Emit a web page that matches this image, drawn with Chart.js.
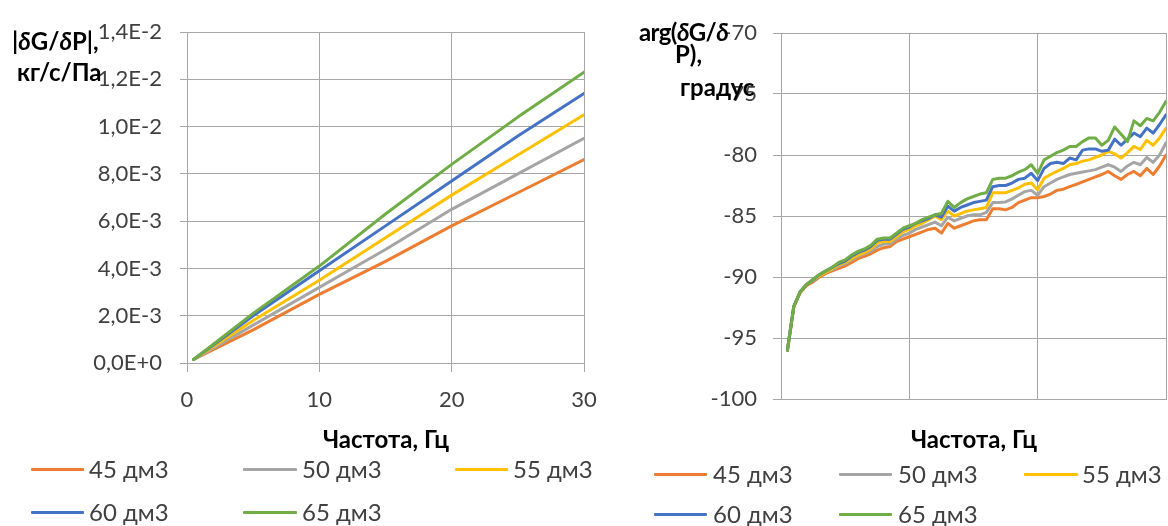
<!DOCTYPE html>
<html>
<head>
<meta charset="utf-8">
<script src="https://cdn.jsdelivr.net/npm/chart.js@4/dist/chart.umd.min.js"></script>
<style>
  html, body { margin: 0; padding: 0; background: #fff; }
  body { width: 1168px; height: 526px; position: relative; overflow: hidden; font-family: Lato, 'Open Sans', sans-serif; }
  .box { position: absolute; top: 0; }
  .txt { position: absolute; white-space: nowrap; line-height: 28px; height: 28px; color: #404040; font-size: 24px; }
  .bold { font-weight: bold; color: #000; }
  .leg-line { position: absolute; height: 3px; border-radius: 1px; }
</style>
</head>
<body>
<div class="box" style="left:0;width:600px;height:526px"><canvas id="chartMag" width="600" height="526"></canvas></div>
<div class="box" style="left:600px;width:568px;height:526px"><canvas id="chartArg" width="568" height="526"></canvas></div>

<!-- axis titles -->
<div class="txt bold" style="left:12px;top:27px">|<i>δ</i>G/<i>δ</i>P|,</div>
<div class="txt bold" style="left:17px;top:58px">кг/с/Па</div>
<div class="txt bold" style="left:639px;top:18px;letter-spacing:-0.6px">arg(<i>δ</i>G/<i>δ</i></div>
<div class="txt bold" style="left:675px;top:40px">P),</div>
<div class="txt bold" style="left:680px;top:73px">градус</div>
<div class="txt bold" style="left:386px;top:425px;transform:translateX(-50%)">Частота, Гц</div>
<div class="txt bold" style="left:974px;top:425px;transform:translateX(-50%)">Частота, Гц</div>

<div id="legends"></div>

<script>
// series names and colours
const seriesLabels = ['45 дм3', '50 дм3', '55 дм3', '60 дм3', '65 дм3'];
const seriesColors = ['#ED7D31', '#A5A5A5', '#FFC000', '#4472C4', '#70AD47'];

// left chart: |dG/dP|, kg/s/Pa
const freqL = [0.5, 5, 10, 15, 20, 25, 30];
const mag45 = [0.00015, 0.0014, 0.0029, 0.0043, 0.0058, 0.0072, 0.0086];
const mag50 = [0.00015, 0.0016, 0.0032, 0.0048, 0.0065, 0.0080, 0.0095];
const mag55 = [0.00015, 0.0018, 0.0035, 0.0053, 0.0071, 0.0088, 0.0105];
const mag60 = [0.00015, 0.0020, 0.0039, 0.0058, 0.0077, 0.0096, 0.0114];
const mag65 = [0.00015, 0.0021, 0.0041, 0.0063, 0.0084, 0.0104, 0.0123];
const xTickLabelsL = ['0', '10', '20', '30'];
const yTickLabelsL = ['0,0E+0', '2,0E-3', '4,0E-3', '6,0E-3', '8,0E-3', '1,0E-2', '1,2E-2', '1,4E-2'];

// right chart: arg(dG/dP), degrees
const freqR = [0.5, 1, 1.5, 2, 2.5, 3, 3.5, 4, 4.5, 5, 5.5, 6, 6.5, 7, 7.5, 8, 8.5, 9, 9.5, 10,
  10.5, 11, 11.5, 12, 12.5, 13, 13.5, 14, 14.5, 15, 15.5, 16, 16.5, 17, 17.5, 18, 18.5, 19, 19.5, 20,
  20.5, 21, 21.5, 22, 22.5, 23, 23.5, 24, 24.5, 25, 25.5, 26, 26.5, 27, 27.5, 28, 28.5, 29, 29.5, 30];
const arg45 = [-96.0, -92.4, -91.3, -90.7, -90.4, -90.0, -89.7, -89.5, -89.3, -89.1,
  -88.8, -88.5, -88.3, -88.1, -87.8, -87.6, -87.5, -87.1, -86.9, -86.7,
  -86.5, -86.3, -86.1, -86.0, -86.4, -85.6, -86.0, -85.8, -85.6, -85.4,
  -85.3, -85.3, -84.4, -84.4, -84.5, -84.3, -83.9, -83.7, -83.5, -83.5,
  -83.4, -83.2, -82.9, -82.8, -82.6, -82.4, -82.2, -82.0, -81.8, -81.6,
  -81.35, -81.7, -82.0, -81.6, -81.35, -81.7, -81.1, -81.6, -80.9, -80.0];
const arg50 = [-96.0, -92.4, -91.2, -90.6, -90.3, -89.9, -89.6, -89.4, -89.1, -88.9,
  -88.6, -88.3, -88.1, -87.9, -87.5, -87.3, -87.3, -86.9, -86.6, -86.4,
  -86.1, -85.9, -85.7, -85.5, -85.8, -85.1, -85.4, -85.2, -85.0, -84.9,
  -84.9, -84.7, -83.9, -83.9, -83.85, -83.6, -83.3, -83.0, -82.9, -83.3,
  -82.6, -82.3, -82.0, -81.8, -81.6, -81.5, -81.4, -81.3, -81.2, -81.0,
  -80.8, -81.0, -81.35, -80.9, -80.6, -80.8, -80.2, -80.6, -80.0, -79.0];
const arg55 = [-96.0, -92.4, -91.2, -90.6, -90.2, -89.9, -89.6, -89.3, -89.0, -88.8,
  -88.5, -88.2, -88.0, -87.7, -87.2, -87.1, -87.1, -86.7, -86.3, -86.1,
  -85.8, -85.6, -85.3, -85.0, -85.3, -84.6, -85.0, -84.8, -84.6, -84.5,
  -84.4, -84.3, -83.1, -83.1, -83.1, -82.9, -82.7, -82.4, -82.3, -82.85,
  -81.9, -81.6, -81.35, -81.1, -80.8, -80.7, -80.5, -80.4, -80.2, -80.0,
  -79.7, -79.9, -80.25, -79.8, -79.3, -79.55, -78.8, -79.2, -78.6, -77.8];
const arg60 = [-96.0, -92.4, -91.2, -90.6, -90.2, -89.8, -89.5, -89.2, -88.9, -88.7,
  -88.3, -88.0, -87.8, -87.5, -87.0, -86.9, -86.9, -86.5, -86.1, -85.9,
  -85.6, -85.4, -85.2, -84.9, -85.1, -84.2, -84.6, -84.3, -84.1, -83.9,
  -83.8, -83.7, -82.6, -82.5, -82.5, -82.3, -82.0, -81.9, -81.5, -82.1,
  -81.1, -80.7, -80.6, -80.7, -80.25, -80.4, -79.6, -79.5, -79.5, -79.7,
  -79.6, -78.7, -79.2, -78.7, -78.2, -78.5, -77.8, -78.2, -77.5, -76.7];
const arg65 = [-96.0, -92.4, -91.2, -90.6, -90.2, -89.8, -89.5, -89.2, -88.8, -88.6,
  -88.2, -87.9, -87.7, -87.4, -86.9, -86.8, -86.8, -86.4, -86.0, -85.8,
  -85.6, -85.3, -85.1, -84.9, -84.8, -83.8, -84.3, -83.9, -83.6, -83.4,
  -83.2, -83.1, -82.0, -81.9, -81.9, -81.7, -81.4, -81.2, -80.8, -81.5,
  -80.4, -80.1, -79.8, -79.6, -79.3, -79.3, -78.9, -78.6, -78.6, -79.2,
  -78.8, -77.7, -78.3, -78.9, -77.2, -77.6, -77.0, -77.2, -76.5, -75.6];
const yTickLabelsR = ['-100', '-95', '-90', '-85', '-80', '-75', '-70'];

const gridColor = '#a6a6a6';
const tickColor = '#404040';
const tickFont = { family: 'Lato', size: 22 };

function makeDatasets(xs, seriesList) {
    return seriesList.map((vals, i) => ({
        label: seriesLabels[i],
        data: vals.map((v, k) => ({ x: xs[k], y: v })),
        borderColor: seriesColors[i],
        backgroundColor: seriesColors[i],
        borderWidth: 3,
        pointRadius: 0,
        tension: 0,
        fill: false,
        borderJoinStyle: 'round',
        borderCapStyle: 'round',
        order: seriesList.length - i   // 65 dm3 on top, like in Excel
    }));
}

function baseOptions() {
    return {
        responsive: false,
        animation: false,
        devicePixelRatio: 1,
        plugins: { legend: { display: false }, tooltip: { enabled: false } }
    };
}

// Left chart
function initMagChart() {
    const ctx = document.getElementById('chartMag').getContext('2d');
    const opts = baseOptions();
    opts.layout = { padding: { left: 0, right: 16, top: 32, bottom: 0 } };
    opts.scales = {
        x: {
            type: 'linear', min: 0, max: 30,
            ticks: {
                stepSize: 10, maxRotation: 0, padding: 15, color: tickColor, font: tickFont,
                callback: function(value, index) { return xTickLabelsL[index]; }
            },
            grid: { color: gridColor, lineWidth: 1, tickLength: 9 },
            border: { color: gridColor, width: 1 },
            afterFit: function(scale) {
                scale.height = 163;
                // let layout padding alone decide the plot edges
                scale.paddingLeft = 0;
                scale.paddingRight = 0;
            }
        },
        y: {
            type: 'linear', min: 0, max: 0.014,
            ticks: {
                stepSize: 0.002, padding: 18, color: tickColor, font: tickFont,
                callback: function(value, index) { return yTickLabelsL[index]; }
            },
            grid: { color: gridColor, lineWidth: 1, tickLength: 7 },
            border: { color: gridColor, width: 1 },
            afterFit: function(scale) { scale.width = 187; }
        }
    };
    return new Chart(ctx, {
        type: 'line',
        data: { datasets: makeDatasets(freqL, [mag45, mag50, mag55, mag60, mag65]) },
        options: opts
    });
}

// Right chart
function initArgChart() {
    const ctx = document.getElementById('chartArg').getContext('2d');
    const opts = baseOptions();
    opts.layout = { padding: { left: 0, right: 2, top: 33, bottom: 0 } };
    opts.scales = {
        x: {
            type: 'linear', min: 0, max: 30,
            ticks: { stepSize: 10, display: false },
            grid: { color: gridColor, lineWidth: 1, drawTicks: false },
            border: { color: gridColor, width: 1 },
            afterFit: function(scale) {
                scale.height = 127;
                scale.paddingLeft = 0;
                scale.paddingRight = 0;
            }
        },
        y: {
            type: 'linear', min: -100, max: -70,
            ticks: {
                stepSize: 5, padding: 16, color: tickColor, font: tickFont,
                callback: function(value, index) { return yTickLabelsR[index]; }
            },
            grid: { color: gridColor, lineWidth: 1, tickLength: 8 },
            border: { color: gridColor, width: 1 },
            afterFit: function(scale) { scale.width = 181; }
        }
    };
    return new Chart(ctx, {
        type: 'line',
        data: { datasets: makeDatasets(freqR, [arg45, arg50, arg55, arg60, arg65]) },
        options: opts
    });
}

// Excel-like legend grid (3 columns, 2 rows) built from the chart datasets
function buildLegend(chart, cols, rows) {
    const holder = document.getElementById('legends');
    chart.data.datasets.forEach((ds, i) => {
        const col = cols[i % 3];
        const y = rows[Math.floor(i / 3)];
        const line = document.createElement('div');
        line.className = 'leg-line';
        line.style.left = col.line + 'px';
        line.style.width = col.len + 'px';
        line.style.top = (y - 1.5) + 'px';
        line.style.background = ds.borderColor;
        holder.appendChild(line);
        const txt = document.createElement('div');
        txt.className = 'txt';
        txt.style.left = col.text + 'px';
        txt.style.top = (y - 14) + 'px';
        txt.textContent = ds.label;
        holder.appendChild(txt);
    });
}

const magChart = initMagChart();
const argChart = initArgChart();
buildLegend(magChart,
    [{ line: 31, len: 53, text: 89 }, { line: 243, len: 54, text: 302 }, { line: 455, len: 53, text: 513 }],
    [469, 512]);
buildLegend(argChart,
    [{ line: 654, len: 53, text: 713 }, { line: 839, len: 53, text: 898 }, { line: 1024, len: 54, text: 1082 }],
    [474, 514]);
</script>
</body>
</html>
